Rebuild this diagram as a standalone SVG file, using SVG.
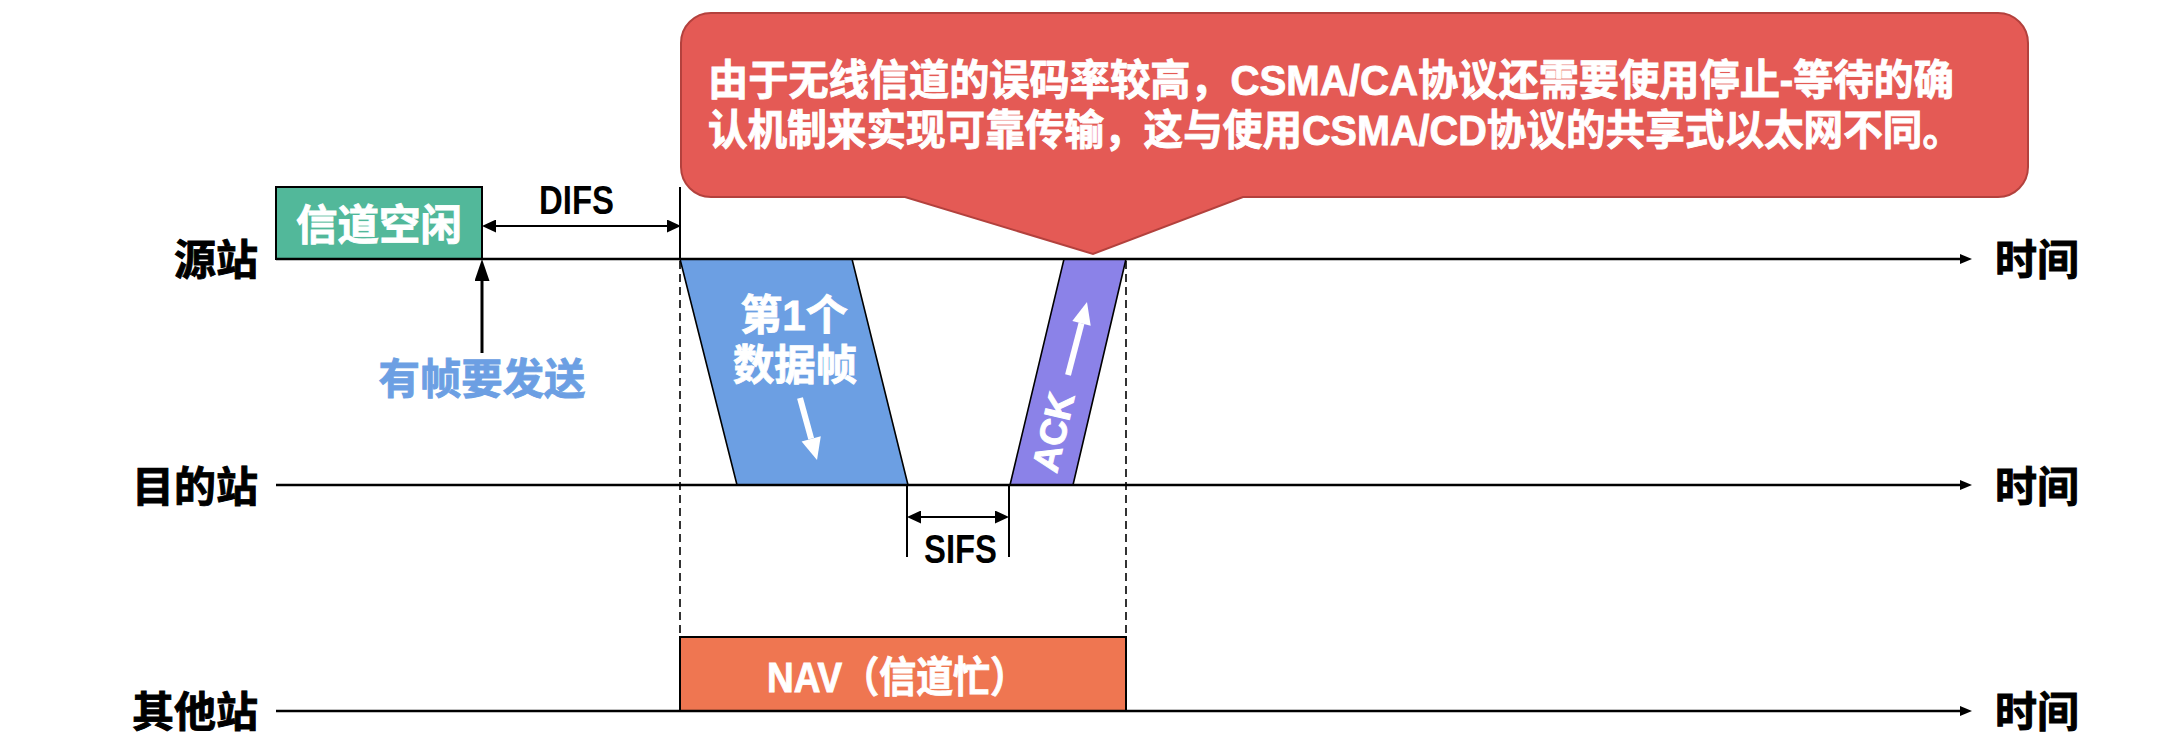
<svg xmlns="http://www.w3.org/2000/svg" width="2178" height="746" viewBox="0 0 2178 746">
<style>
.cjk{font-family:"Liberation Sans","Noto Sans CJK SC",sans-serif;font-weight:bold;font-size:42px;stroke-width:0.9px}
.lbl{fill:#000;stroke:#000}
.wt{fill:#fff;stroke:#fff}
.bl{fill:#6c9fe3;stroke:#6c9fe3}
.lat{font-family:"Liberation Sans",sans-serif;font-weight:bold;font-size:40px;fill:#000}
.tl{stroke:#000;stroke-width:2.5;fill:none}
.thin{stroke:#000;stroke-width:2;fill:none}
.dash{stroke:#000;stroke-width:1.6;stroke-dasharray:8 5;fill:none}
.frame{stroke:#000;stroke-width:1.6}
</style>
<defs>
<marker id="mtl" markerUnits="userSpaceOnUse" markerWidth="12" markerHeight="10" refX="6" refY="5" orient="auto">
<path d="M0,0 L12,5 L0,10 Z" fill="#000"/>
</marker>
<marker id="mah" markerUnits="userSpaceOnUse" markerWidth="14" markerHeight="13" refX="7" refY="6.5" orient="auto-start-reverse">
<path d="M0,0 L14,6.5 L0,13 Z" fill="#000"/>
</marker>
<marker id="mup" markerUnits="userSpaceOnUse" markerWidth="22" markerHeight="15" refX="10" refY="7.5" orient="auto">
<path d="M0,0 L22,7.5 L0,15 Z" fill="#000"/>
</marker>
</defs>

<g id="callout">
<path d="M711,13 H1998 A30,30 0 0 1 2028,43 V167 A30,30 0 0 1 1998,197 H1243 L1093,254 L905,197 H711 A30,30 0 0 1 681,167 V43 A30,30 0 0 1 711,13 Z" fill="#e45a55" stroke="#b3413d" stroke-width="2"/>
<text class="cjk wt" x="708" y="95" textLength="1246" lengthAdjust="spacingAndGlyphs">由于无线信道的误码率较高，CSMA/CA协议还需要使用停止-等待的确</text>
<text class="cjk wt" x="708" y="145" textLength="1254" lengthAdjust="spacingAndGlyphs">认机制来实现可靠传输，这与使用CSMA/CD协议的共享式以太网不同。</text>
</g>

<g id="labels">
<text class="cjk lbl" x="258" y="275" text-anchor="end">源站</text>
<text class="cjk lbl" x="258" y="502" text-anchor="end">目的站</text>
<text class="cjk lbl" x="258" y="727" text-anchor="end">其他站</text>
<text class="cjk lbl" x="1995" y="275">时间</text>
<text class="cjk lbl" x="1995" y="502">时间</text>
<text class="cjk lbl" x="1995" y="727">时间</text>
</g>

<g id="idle">
<rect x="276" y="187" width="206" height="72" fill="#52b89a" stroke="#000" stroke-width="2"/>
<text class="cjk wt" x="379" y="240" text-anchor="middle" textLength="166" lengthAdjust="spacingAndGlyphs">信道空闲</text>
</g>

<g id="nav">
<rect x="680" y="637" width="446" height="74" fill="#ef7651" stroke="#000" stroke-width="2"/>
<text class="cjk wt" x="897" y="692" text-anchor="middle" textLength="260" lengthAdjust="spacingAndGlyphs">NAV（信道忙）</text>
</g>

<g id="data-frame">
<polygon points="680,259 852,259 908,485 737,485" fill="#6c9fe3" class="frame"/>
<text class="cjk wt" x="794" y="330" text-anchor="middle">第1个</text>
<text class="cjk wt" x="795" y="380" text-anchor="middle" textLength="124" lengthAdjust="spacingAndGlyphs">数据帧</text>
<line x1="800" y1="398" x2="811.2" y2="438.8" stroke="#fff" stroke-width="6"/>
<polygon points="817,460 820.8,436.2 801.6,441.4" fill="#fff"/>
</g>

<g id="ack-frame">
<polygon points="1010,485 1073,485 1126,259 1064,259" fill="#8b82e8" class="frame"/>
<text class="wt" font-family="Liberation Sans, sans-serif" font-weight="bold" font-size="37" text-anchor="middle" x="0" y="13" textLength="80" lengthAdjust="spacingAndGlyphs" transform="translate(1053,432) rotate(-77)">ACK</text>
<line x1="1068" y1="375" x2="1081.5" y2="323.3" stroke="#fff" stroke-width="6"/>
<polygon points="1087,302 1090.7,325.7 1072.3,320.9" fill="#fff"/>
</g>

<g id="want-send">
<text class="cjk bl" x="482" y="394" text-anchor="middle" textLength="207" lengthAdjust="spacingAndGlyphs">有帧要发送</text>
</g>

<g id="difs-label">
<text class="lat" x="539" y="214" textLength="75" lengthAdjust="spacingAndGlyphs">DIFS</text>
</g>
<g id="sifs-label">
<text class="lat" x="924" y="563" textLength="73" lengthAdjust="spacingAndGlyphs">SIFS</text>
</g>

<g id="connectors">
<line class="tl" x1="276" y1="259" x2="1966" y2="259" marker-end="url(#mtl)"/>
<line class="tl" x1="276" y1="485" x2="1966" y2="485" marker-end="url(#mtl)"/>
<line class="tl" x1="276" y1="711" x2="1966" y2="711" marker-end="url(#mtl)"/>
<line class="thin" x1="680" y1="187" x2="680" y2="259"/>
<line class="dash" x1="680" y1="261" x2="680" y2="637"/>
<line class="dash" x1="1126" y1="261" x2="1126" y2="637"/>
<line class="thin" x1="489" y1="226" x2="674" y2="226" marker-start="url(#mah)" marker-end="url(#mah)"/>
<line class="thin" x1="907" y1="485" x2="907" y2="557"/>
<line class="thin" x1="1009" y1="485" x2="1009" y2="557"/>
<line class="thin" x1="914" y1="517" x2="1002" y2="517" marker-start="url(#mah)" marker-end="url(#mah)"/>
<line x1="482" y1="353" x2="482" y2="271" stroke="#000" stroke-width="3" marker-end="url(#mup)"/>
</g>
</svg>
